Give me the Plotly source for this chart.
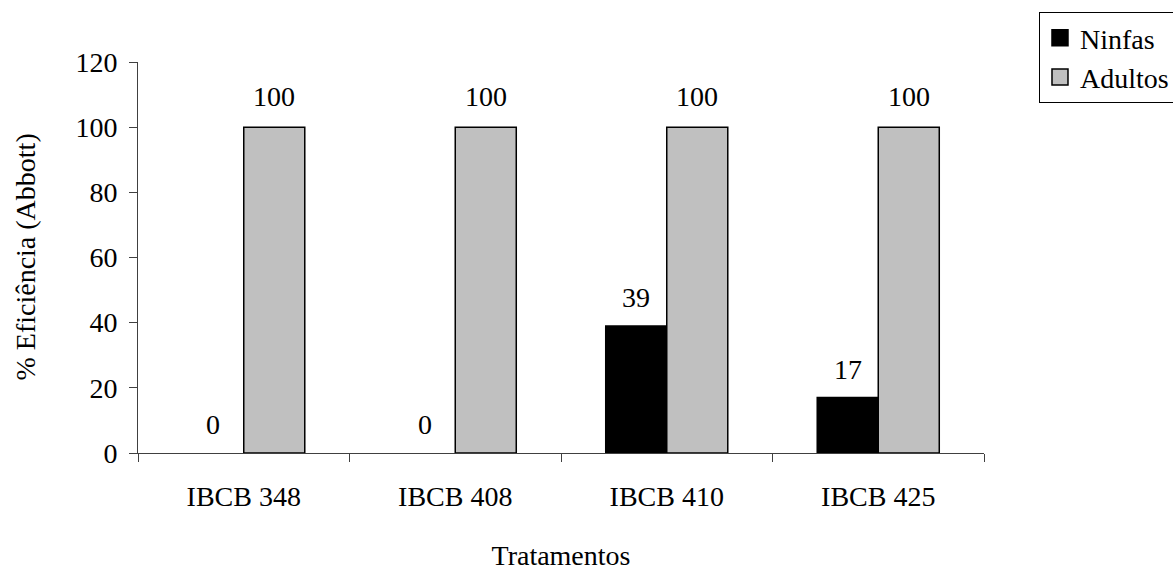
import plotly.graph_objects as go

categories = ["IBCB 348", "IBCB 408", "IBCB 410", "IBCB 425"]
ninfas = [0, 0, 39, 17]
adultos = [100, 100, 100, 100]
y_ticks = [0, 20, 40, 60, 80, 100, 120]

FONT = "Liberation Serif"
FS = 28

fig = go.Figure()
fig.add_trace(go.Bar(name="Ninfas", x=categories, y=ninfas, showlegend=False,
                     marker=dict(color="#000000",
                                 line=dict(color="#000000",
                                           width=[0 if v == 0 else 1.5 for v in ninfas]))))
fig.add_trace(go.Bar(name="Adultos", x=categories, y=adultos, showlegend=False,
                     marker=dict(color="#C0C0C0", line=dict(color="#000000", width=1.5))))
# legend entries with larger square swatches
fig.add_trace(go.Scatter(name="Ninfas", x=[None], y=[None], mode="markers",
                         marker=dict(symbol="square", size=16, color="#000000",
                                     line=dict(color="#000000", width=1.5))))
fig.add_trace(go.Scatter(name="Adultos", x=[None], y=[None], mode="markers",
                         marker=dict(symbol="square", size=16, color="#C0C0C0",
                                     line=dict(color="#000000", width=1.5))))

annotations = []
for cat, v in zip(categories, ninfas):
    annotations.append(dict(x=cat, y=v, text=str(v), xref="x", yref="y", showarrow=False,
                            xshift=-30.5, yshift=11, yanchor="bottom",
                            font=dict(family=FONT, size=FS, color="black")))
for cat, v in zip(categories, adultos):
    annotations.append(dict(x=cat, y=v, text=str(v), xref="x", yref="y", showarrow=False,
                            xshift=30.5, yshift=13, yanchor="bottom",
                            font=dict(family=FONT, size=FS, color="black")))
annotations.append(dict(x=0, y=0.5, xref="paper", yref="paper", xanchor="center", yanchor="middle",
                        xshift=-113, textangle=-90, showarrow=False, text="% Eficiência (Abbott)",
                        font=dict(family=FONT, size=FS, color="black")))

fig.update_layout(
    width=1173, height=573,
    margin=dict(l=138, r=189, t=62, b=120, autoexpand=False),
    paper_bgcolor="white", plot_bgcolor="white",
    font=dict(family=FONT, size=FS, color="black"),
    barmode="group", bargap=0.423, bargroupgap=0,
    annotations=annotations,
    legend=dict(x=1.065, y=1.128, xanchor="left", yanchor="top",
                bordercolor="black", borderwidth=1, bgcolor="white",
                font=dict(family=FONT, size=FS, color="black"),
                tracegroupgap=0, itemwidth=30, itemsizing="trace"),
    showlegend=True,
)
fig.update_xaxes(showline=True, linecolor="#404040", linewidth=1,
                 ticks="outside", ticklen=8, tickcolor="#404040", tickson="boundaries",
                 ticklabelstandoff=18,
                 title=dict(text="Tratamentos", standoff=34, font=dict(size=FS)),
                 showgrid=False, zeroline=False)
fig.update_yaxes(range=[0, 120], tickvals=y_ticks, showline=True, linecolor="#404040", linewidth=1,
                 ticks="outside", ticklen=8, tickcolor="#404040", ticklabelstandoff=6,
                 showgrid=False, zeroline=False)

fig.write_html("out.html")
